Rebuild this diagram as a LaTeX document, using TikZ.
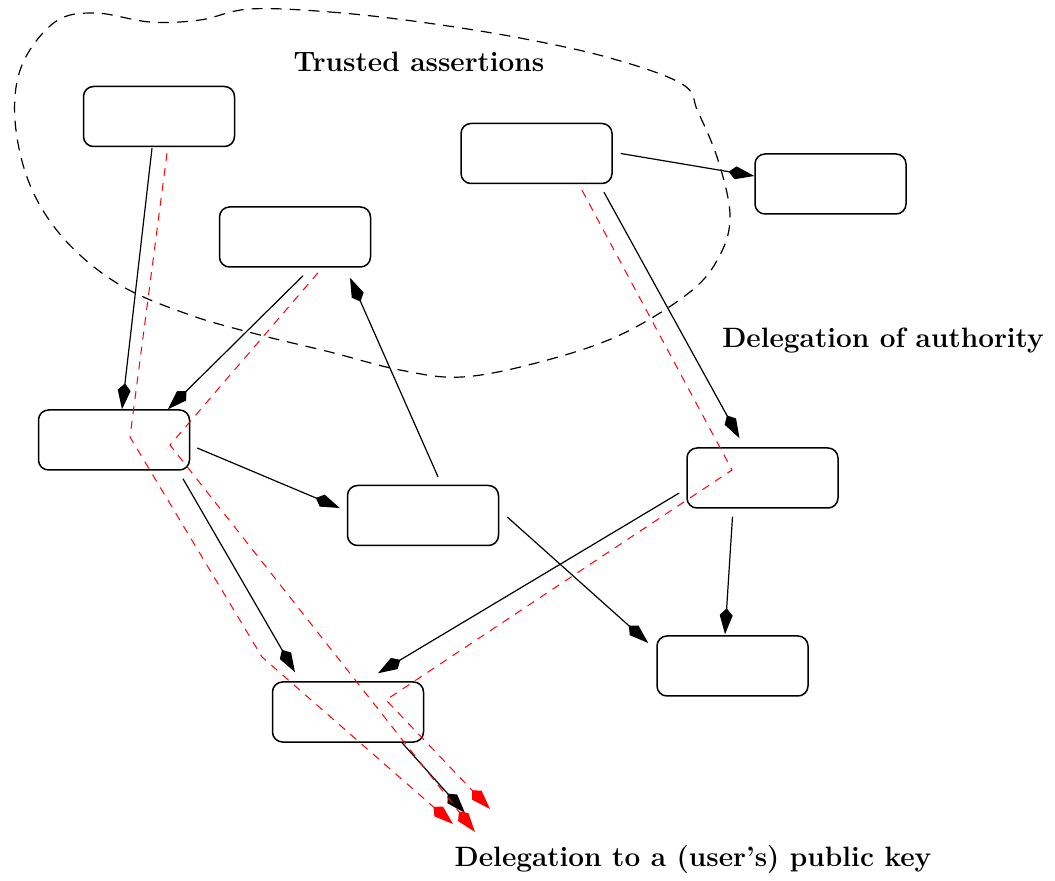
\documentclass[tikz,border=0pt]{standalone}
\usepackage{tikz}
\usetikzlibrary{arrows.meta,calc}

\tikzset{
    box/.style={draw,rounded corners=5pt,line width=0.75pt,minimum width=75.5pt,minimum height=30pt,inner sep=0pt},
    link/.style={line width=0.6pt,-{Kite[length=13pt,width=6.5pt,inset=3.5pt]}},
    trust/.style={red,line width=0.5pt,dash pattern=on 4pt off 3.5pt,-{Kite[length=13pt,width=6.5pt,inset=3.5pt]}},
    lbl/.style={font=\fontsize{14}{17}\selectfont\bfseries}
}

\begin{document}
\begin{tikzpicture}[x=0.5pt,y=-0.5pt]
        \useasboundingbox (0,0) rectangle (1055,881);
        \draw[line width=0.6pt,dash pattern=on 5.5pt off 4pt] plot[smooth cycle,tension=0.6] coordinates {
            (250,9) (330,12) (420,22) (520,38) (610,58) (682,84) (698,112) (718,160) (730,215)
            (720,255) (690,292) (620,335) (540,362) (462,377) (400,370) (330,352) (260,335)
            (190,315) (120,285) (65,240) (30,185) (15,120) (22,65) (55,22) (95,13) (150,22) (200,20)};
        \foreach \n/\x/\y in {A/159/116.5,B/295/237,C/536.5/153.5,D/830.5/184,E/114/440,
                              F/423/515.5,G/762.5/478,H/732.5/666,I/348/712}
            \node[box] (\n) at (\x,\y) {};
        \coordinate (key) at (465,813);
        \foreach \s/\a/\b/\t/\c/\d in {A.south/-7/1/E.north/8/0, B.south/8/8/E.north/54/0,
                                       C.east/8/0/D.west/0/-8, C.south/67.5/8/G.north/-23/-9,
                                       E.east/7/8/F.west/-7/-7.5, E.south/69/8/I.north/-53/-9,
                                       F.north/15/-8/B.south/55/10, F.east/8/1.5/H.west/-8/-23,
                                       G.south/-30/8/H.north/-7.5/-1, G.west/-7/15/I.north/30/-8,
                                       I.south/54/0/key/0/0}
            \draw[link] ($(\s)+(\a,\b)$) -- ($(\t)+(\c,\d)$);
        \coordinate (r1) at (130,437);
        \coordinate (r2) at (262,657);
        \coordinate (r3) at (170,445);
        \coordinate (r4) at (732,470);
        \coordinate (r5) at (386,700);
        \coordinate (k1) at (453,824);
        \coordinate (k2) at (475,832);
        \coordinate (k3) at (490,809);
        \draw[trust] ($(A.south)+(8,6)$) -- (r1) -- (r2) -- (k1);
        \draw[trust] ($(B.south)+(23,5)$) -- (r3) -- (k2);
        \draw[trust] ($(C.south)+(45.5,6)$) -- (r4) -- (r5) -- (k3);
        \node[lbl] (trusted) at (419,62) {Trusted assertions};
        \node[lbl] (authority) at (883,341) {Delegation of authority};
        \node[lbl] (pubkey) at (693,860) {Delegation to a (user's) public key};
\end{tikzpicture}
\end{document}
